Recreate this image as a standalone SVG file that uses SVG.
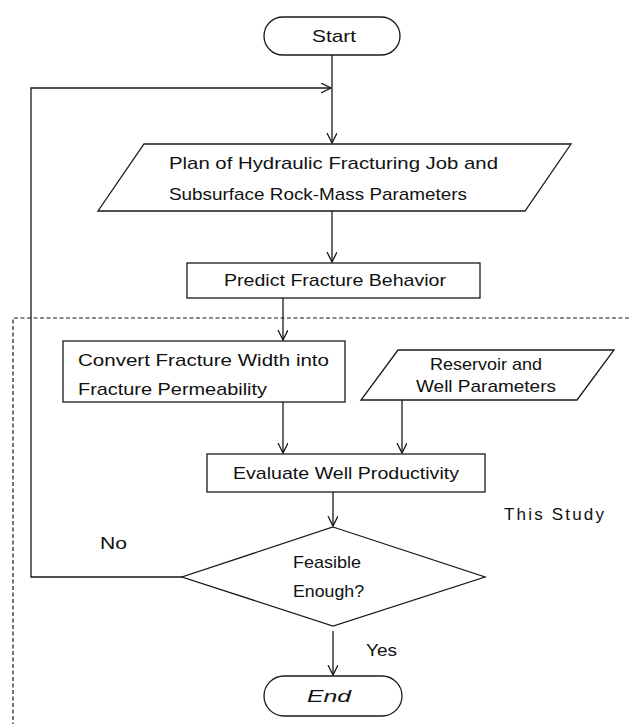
<svg xmlns="http://www.w3.org/2000/svg" width="629" height="724" viewBox="0 0 629 724">
<style>
.s{fill:#fff;stroke:#1a1a1a;stroke-width:1.3}
.c{fill:none;stroke:#1a1a1a;stroke-width:1.3}
.d{fill:none;stroke:#1a1a1a;stroke-width:1.2;stroke-dasharray:4 2.5}
text{font-family:"Liberation Sans","DejaVu Sans",Arial,sans-serif;font-size:17px;fill:#111}
.m{text-anchor:middle}
</style>
<defs>
<marker id="ah" markerUnits="userSpaceOnUse" markerWidth="12" markerHeight="12" refX="10" refY="5" orient="auto">
<path d="M0,0 L10,5 L0,10" fill="none" stroke="#1a1a1a" stroke-width="1.3"/>
</marker>
</defs>
<g id="boundary">
<polyline class="d" points="629,318 13,318 13,724"/>
</g>
<g id="connectors">
<line class="c" x1="332" y1="55" x2="332" y2="143" marker-end="url(#ah)"/>
<polyline class="c" points="182,577 31,577 31,88 331,88" marker-end="url(#ah)"/>
<line class="c" x1="332" y1="211" x2="332" y2="262" marker-end="url(#ah)"/>
<line class="c" x1="283" y1="298" x2="283" y2="340" marker-end="url(#ah)"/>
<line class="c" x1="283" y1="402" x2="283" y2="453" marker-end="url(#ah)"/>
<line class="c" x1="402" y1="400" x2="402" y2="453" marker-end="url(#ah)"/>
<line class="c" x1="333" y1="492" x2="333" y2="526" marker-end="url(#ah)"/>
<line class="c" x1="333" y1="631" x2="333" y2="675" marker-end="url(#ah)"/>
</g>
<g id="start">
<rect class="s" x="264" y="17" width="136" height="38" rx="19"/>
<text class="m" x="334" y="42" textLength="44" lengthAdjust="spacingAndGlyphs">Start</text>
</g>
<g id="plan">
<polygon class="s" points="144,144 571,144 525,211 98,211"/>
<text x="169" y="169" textLength="329" lengthAdjust="spacingAndGlyphs">Plan of Hydraulic Fracturing Job and</text>
<text x="169" y="200" textLength="298" lengthAdjust="spacingAndGlyphs">Subsurface Rock-Mass Parameters</text>
</g>
<g id="predict">
<rect class="s" x="187" y="263" width="293" height="35"/>
<text class="m" x="335" y="286" textLength="222" lengthAdjust="spacingAndGlyphs">Predict Fracture Behavior</text>
</g>
<g id="convert">
<rect class="s" x="63" y="341" width="282" height="61"/>
<text x="78" y="366" textLength="251" lengthAdjust="spacingAndGlyphs">Convert Fracture Width into</text>
<text x="78" y="395" textLength="189" lengthAdjust="spacingAndGlyphs">Fracture Permeability</text>
</g>
<g id="reservoir">
<polygon class="s" points="398,350 614,350 577,400 361,400"/>
<text class="m" x="486" y="370" textLength="112" lengthAdjust="spacingAndGlyphs">Reservoir and</text>
<text class="m" x="486" y="392" textLength="140" lengthAdjust="spacingAndGlyphs">Well Parameters</text>
</g>
<g id="evaluate">
<rect class="s" x="207" y="454" width="278" height="38"/>
<text class="m" x="346" y="479" textLength="226" lengthAdjust="spacingAndGlyphs">Evaluate Well Productivity</text>
</g>
<g id="decision">
<polygon class="s" points="333,527 485,577 333,626 182,577"/>
<text x="293" y="568" textLength="68" lengthAdjust="spacingAndGlyphs">Feasible</text>
<text x="293" y="597" textLength="71" lengthAdjust="spacingAndGlyphs">Enough?</text>
</g>
<g id="end">
<rect class="s" x="264" y="676" width="138" height="40" rx="20"/>
<text class="m" x="329" y="702" font-style="italic" textLength="44" lengthAdjust="spacingAndGlyphs">End</text>
</g>
<g id="labels">
<text x="100" y="549" textLength="27" lengthAdjust="spacingAndGlyphs">No</text>
<text x="366" y="656" textLength="31" lengthAdjust="spacingAndGlyphs">Yes</text>
<text x="504" y="520" textLength="100" lengthAdjust="spacing">This  Study</text>
</g>
</svg>
